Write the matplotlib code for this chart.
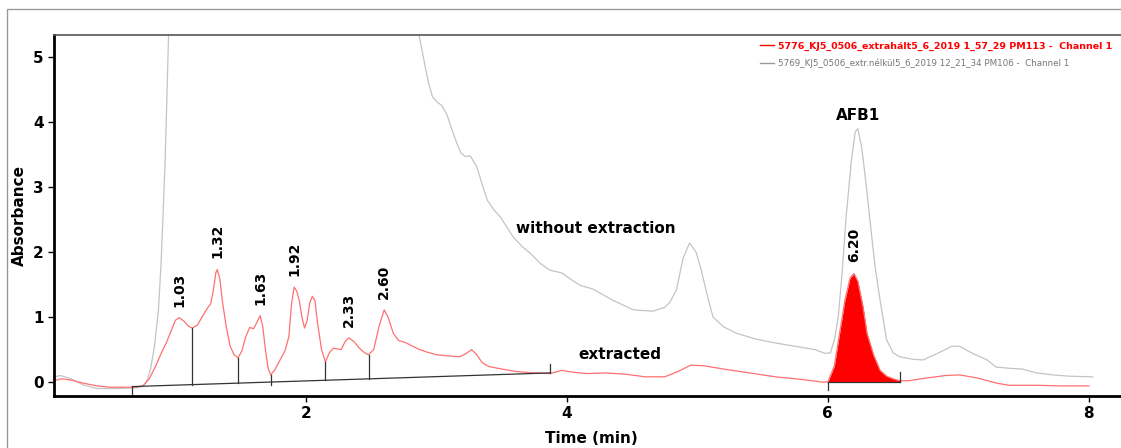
import numpy as np
import matplotlib.pyplot as plt
from matplotlib.patches import Rectangle
from matplotlib.lines import Line2D

# extracted sample (red)
red_t = [0.07, 0.13, 0.2, 0.3, 0.4, 0.5, 0.6, 0.7, 0.75, 0.8, 0.85, 0.9, 0.93, 0.97, 1.0, 1.03,
         1.07, 1.1, 1.13, 1.17, 1.21, 1.25, 1.27, 1.29, 1.31, 1.32, 1.34, 1.36, 1.39, 1.42, 1.45,
         1.48, 1.51, 1.54, 1.57, 1.6, 1.62, 1.65, 1.67, 1.69, 1.71, 1.73, 1.76, 1.8, 1.84, 1.87,
         1.89, 1.91, 1.93, 1.95, 1.97, 1.99, 2.01, 2.03, 2.05, 2.07, 2.09, 2.12, 2.15, 2.18, 2.21,
         2.24, 2.27, 2.3, 2.33, 2.37, 2.41, 2.45, 2.48, 2.52, 2.56, 2.6, 2.63, 2.67, 2.71, 2.76,
         2.81, 2.87, 2.93, 3.0, 3.1, 3.18, 3.23, 3.27, 3.31, 3.35, 3.4, 3.5, 3.62, 3.75, 3.87,
         3.96, 4.05, 4.15, 4.3, 4.45, 4.6, 4.75, 4.85, 4.95, 5.05, 5.2, 5.4, 5.6, 5.8, 5.95, 6.0,
         6.05, 6.09, 6.13, 6.17, 6.2, 6.23, 6.27, 6.3, 6.35, 6.4, 6.45, 6.5, 6.55, 6.62, 6.75,
         6.9, 7.01, 7.15, 7.3, 7.39, 7.6, 7.8, 8.0]
red_v = [0.02, 0.05, 0.03, -0.02, -0.06, -0.08, -0.08, -0.08, -0.06, 0.05, 0.25, 0.48, 0.6, 0.8,
         0.95, 0.99, 0.93, 0.86, 0.83, 0.88, 1.02, 1.15, 1.2, 1.4, 1.68, 1.73, 1.6, 1.25, 0.85,
         0.55, 0.42, 0.37, 0.48, 0.7, 0.84, 0.82, 0.9, 1.02, 0.85, 0.5, 0.22, 0.11, 0.18, 0.33,
         0.48, 0.7, 1.2, 1.46, 1.4, 1.25, 1.0, 0.83, 0.95, 1.22, 1.32, 1.25, 0.9, 0.5, 0.31, 0.45,
         0.52, 0.51, 0.5, 0.62, 0.68, 0.62, 0.52, 0.45, 0.42, 0.5, 0.85, 1.11, 1.0, 0.75, 0.64,
         0.61, 0.56, 0.5, 0.46, 0.42, 0.4, 0.39, 0.44, 0.5, 0.42, 0.3, 0.24, 0.2, 0.16, 0.14, 0.13,
         0.18, 0.15, 0.13, 0.14, 0.12, 0.08, 0.08, 0.16, 0.26, 0.25, 0.2, 0.14, 0.08, 0.04, 0.0,
         0.0, 0.25, 0.75, 1.25, 1.6, 1.67, 1.55, 1.15, 0.75, 0.42, 0.18, 0.09, 0.05, 0.02, 0.02,
         0.06, 0.1, 0.11, 0.06, -0.02, -0.05, -0.05, -0.06, -0.06]

# without extraction (gray)
gray_t = [0.07, 0.12, 0.2, 0.3, 0.4, 0.55, 0.7, 0.75, 0.78, 0.81, 0.84, 0.87, 0.89, 0.9, 0.92,
          0.93, 0.95, 0.97, 2.8, 2.85, 2.87, 2.91, 2.94, 2.97, 3.01, 3.04, 3.08, 3.12, 3.16, 3.19,
          3.22, 3.26, 3.31, 3.35, 3.39, 3.44, 3.49, 3.59, 3.66, 3.72, 3.8, 3.87, 3.96, 4.03, 4.1,
          4.2, 4.35, 4.51, 4.66, 4.75, 4.79, 4.84, 4.89, 4.94, 4.99, 5.03, 5.08, 5.12, 5.2, 5.3,
          5.45, 5.6, 5.75, 5.9, 5.98, 6.02, 6.05, 6.08, 6.11, 6.14, 6.18, 6.21, 6.23, 6.26, 6.29,
          6.32, 6.36, 6.4, 6.45, 6.5, 6.55, 6.65, 6.73, 6.85, 6.95, 7.01, 7.1, 7.22, 7.29, 7.4,
          7.49, 7.6, 7.72, 7.85, 8.03]
gray_v = [0.08, 0.1, 0.05, -0.05, -0.1, -0.1, -0.09, -0.07, 0.0, 0.2, 0.55, 1.1, 1.8, 2.3, 3.3,
          4.0, 5.5, 8.0, 8.0, 5.6, 5.31, 4.9, 4.6, 4.39, 4.3, 4.26, 4.12, 3.88, 3.66, 3.52, 3.47,
          3.48, 3.31, 3.05, 2.8, 2.65, 2.54, 2.23, 2.08, 1.98, 1.82, 1.72, 1.68, 1.58, 1.49, 1.43,
          1.26, 1.11, 1.09, 1.15, 1.23, 1.42, 1.9, 2.14, 2.0, 1.72, 1.3, 1.0, 0.85, 0.75, 0.66, 0.6,
          0.55, 0.5, 0.44, 0.45, 0.65, 1.0, 1.7, 2.54, 3.4, 3.85, 3.9, 3.6, 3.1, 2.54, 1.8, 1.26,
          0.65, 0.45, 0.39, 0.35, 0.34, 0.45, 0.55, 0.55, 0.45, 0.34, 0.23, 0.21, 0.2, 0.14, 0.11,
          0.09, 0.08]

# peak labels
peak_t = [1.03, 1.32, 1.65, 1.91, 2.33, 2.60, 6.20]
peak_v = [0.99, 1.73, 1.02, 1.46, 0.68, 1.11, 1.67]
peak_lab = ['1.03', '1.32', '1.63', '1.92', '2.33', '2.60', '6.20']

# integration baselines
base1_t = [0.67, 3.87]
base1_v = [-0.07, 0.14]
drop_t = [1.13, 1.48, 1.73, 2.15, 2.48]
drop_v = [0.83, 0.37, 0.11, 0.31, 0.42]
base2_t = [6.0, 6.55]
base2_v = [0.0, 0.0]

fig = plt.figure(figsize=(11.21, 4.48), dpi=100)
ax = fig.add_axes([54/1121, 52/448, (1128-54)/1121, (396-35)/448])

ax.plot(gray_t, gray_v, color='#c4c4c4', lw=0.9)
ax.plot(red_t, red_v, color='#ff7070', lw=0.9)

# AFB1 filled peak
rt = np.array(red_t)
rv = np.array(red_v)
m = (rt >= base2_t[0]) & (rt <= base2_t[1])
ax.fill_between(rt[m], 0, rv[m], color='red', lw=0)

# baselines and drop lines
bc = '#333333'
ax.plot(base1_t, base1_v, color=bc, lw=0.9)
ax.plot([base1_t[0]] * 2, [base1_v[0], base1_v[0] - 0.13], color=bc, lw=0.9)
ax.plot([base1_t[1]] * 2, [base1_v[1], base1_v[1] + 0.14], color=bc, lw=0.9)
for t, v in zip(drop_t, drop_v):
    b = np.interp(t, base1_t, base1_v)
    ax.plot([t, t], [min(b, v) - 0.04 if v < 0.2 else b, v], color=bc, lw=0.9)
ax.plot(base2_t, base2_v, color=bc, lw=0.9)
ax.plot([base2_t[0]] * 2, [base2_v[0], base2_v[0] - 0.12], color=bc, lw=0.9)
ax.plot([base2_t[1]] * 2, [base2_v[1], base2_v[1] + 0.15], color=bc, lw=0.9)

for t, v, s in zip(peak_t, peak_v, peak_lab):
    ax.annotate(s, (t, v), xytext=(0, 8), textcoords='offset points', rotation=90,
                ha='center', va='bottom', fontsize=10, fontweight='bold')

ax.text(4.22, 2.37, 'without extraction', ha='center', va='center', fontsize=11, fontweight='bold')
ax.text(4.41, 0.42, 'extracted', ha='center', va='center', fontsize=11, fontweight='bold')
ax.text(6.23, 4.1, 'AFB1', ha='center', va='center', fontsize=11, fontweight='bold')

ax.set_xlim(0.07, 8.3)
ax.set_ylim(-0.215, 5.34)
ax.set_xticks([2, 4, 6, 8])
ax.set_yticks([0, 1, 2, 3, 4, 5])
ax.tick_params(labelsize=11, width=1, length=4)
for lab in ax.get_xticklabels() + ax.get_yticklabels():
    lab.set_fontweight('bold')
ax.set_xlabel('Time (min)', fontsize=11, fontweight='bold', labelpad=7)
ax.set_ylabel('Absorbance', fontsize=11, fontweight='bold', labelpad=4)

ax.spines['right'].set_visible(False)
ax.spines['left'].set_linewidth(2)
ax.spines['bottom'].set_linewidth(2)
ax.spines['top'].set_color('#555555')
ax.spines['top'].set_linewidth(1.2)

handles = [Line2D([], [], color='red', lw=1), Line2D([], [], color='#999999', lw=1)]
names = ['5776_KJ5_0506_extrahált5_6_2019 1_57_29 PM113 -  Channel 1',
         '5769_KJ5_0506_extr.nélkül5_6_2019 12_21_34 PM106 -  Channel 1']
leg = fig.legend(handles, names, loc='upper right', bbox_to_anchor=(1116/1121, 1 - 38/448),
                 frameon=False, fontsize=6.5, handlelength=1.5, handletextpad=0.5,
                 labelspacing=0.85, borderaxespad=0)
leg.get_texts()[0].set_color('red')
leg.get_texts()[0].set_fontweight('bold')
leg.get_texts()[0].set_fontsize(6.8)
leg.get_texts()[1].set_color('#777777')
leg.get_texts()[1].set_fontsize(6.3)

fig.patches.append(Rectangle((7/1121, -0.1), 1.2, 1.1 - 9/448, transform=fig.transFigure,
                             fill=False, edgecolor='#999999', lw=1))

fig.savefig('out.png', dpi=100)
